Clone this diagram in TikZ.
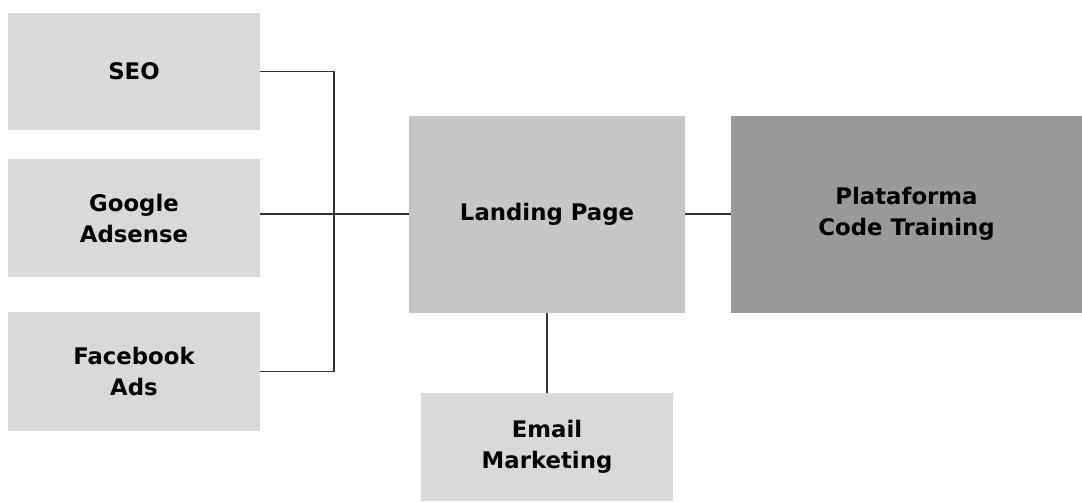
\documentclass[tikz,border=0pt]{standalone}
\usepackage{fontspec}
\setmainfont{DejaVu Sans}
\definecolor{boxlight}{HTML}{D9D9D9}
\definecolor{boxmid}{HTML}{C6C6C6}
\definecolor{boxdark}{HTML}{999999}
\definecolor{linegray}{HTML}{333333}
\begin{document}
\begin{tikzpicture}[x=1pt,y=-1pt,
  box/.style={rectangle, fill=boxlight, draw=none, inner sep=0pt, align=center,
    font=\fontsize{22.8}{31}\selectfont\bfseries, text=black},
  conn/.style={draw=linegray, line width=1.4pt}]
\useasboundingbox (0,0) rectangle (1082,501);
\node[box, minimum width=252, minimum height=117] (S) at (134,71.5) {SEO};
\node[box, minimum width=252, minimum height=118] (G) at (134,218) {Google\\Adsense};
\node[box, minimum width=252, minimum height=119] (F) at (134,371.5) {Facebook\\Ads};
\node[box, fill=boxmid, minimum width=276, minimum height=197] (L) at (547,214) {Landing Page};
\node[box, fill=boxdark, minimum width=351, minimum height=197] (P) at (906.5,214) {Plataforma\\Code Training};
\node[box, minimum width=252, minimum height=108] (E) at (547,447) {Email\\Marketing};
\coordinate (J) at (334,214);
\draw[conn] (S.east) -- (S.east -| J) -- (F.east -| J) -- (F.east);
\draw[conn] (L.west -| G.east) -- (L.west);
\draw[conn] (L.east) -- (P.west);
\draw[conn] (L.south) -- (E.north);
\end{tikzpicture}
\end{document}
